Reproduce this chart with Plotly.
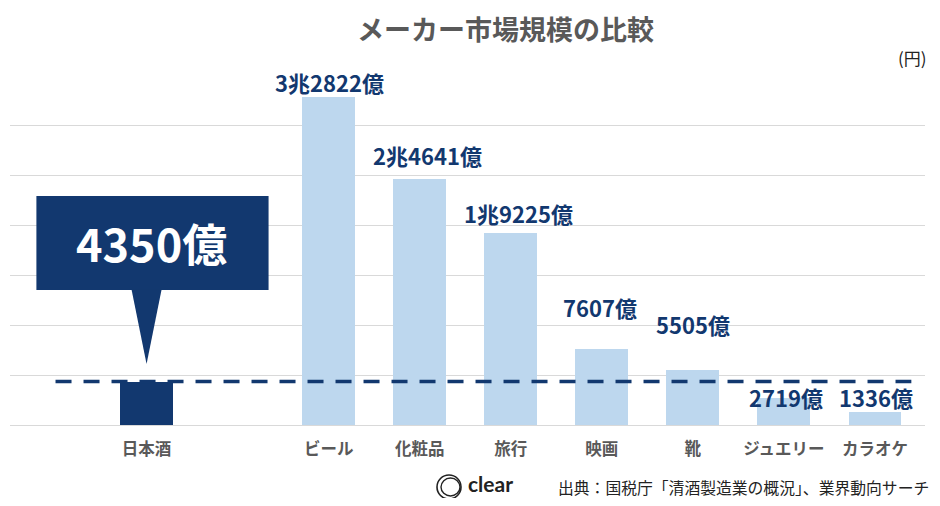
import plotly.graph_objects as go

# Data (億円)
SAKE_LABEL = "日本酒"
SAKE_VALUE = 4350
CATEGORIES = ["ビール", "化粧品", "旅行", "映画", "靴", "ジュエリー", "カラオケ"]
VALUES = [32822, 24641, 19225, 7607, 5505, 2719, 1336]

# label placement tweaks (pixels), kept apart from the data
LABEL_YSHIFT = [15, 24, 20, 42, 46, 1, 15]
LABEL_XSHIFT = [1, 8, 8, -2, 0, 2, 1]

NAVY = "#12386F"
LIGHT = "#BDD7EE"
GRAY = "#595959"
FONT = "Noto Sans CJK JP"

# page body has an 8px margin, so the figure is sized to fit the window
W, H = 924, 490
L, R, T, B = 2, 7, 66, 73
PW, PH = W - L - R, H - T - B


def px(x):
    # window pixel x -> paper x
    return (x - 8 - L) / PW


def py(y):
    # window pixel y -> paper y
    return (H - B - (y - 8)) / PH


def fmt_oku(v):
    if v >= 10000:
        return f"{v // 10000}兆{v % 10000}億"
    return f"{v}億"


sake_x = 0
other_x = [2 + i for i in range(len(CATEGORIES))]

fig = go.Figure()

fig.add_trace(go.Bar(
    x=[sake_x], y=[SAKE_VALUE], width=0.58,
    marker=dict(color=NAVY, line=dict(width=0)),
    hoverinfo="skip", showlegend=False,
))
fig.add_trace(go.Bar(
    x=other_x, y=VALUES, width=0.58,
    marker=dict(color=LIGHT, line=dict(width=0)),
    hoverinfo="skip", showlegend=False,
))

# value labels
for x, v, dy, dx in zip(other_x, VALUES, LABEL_YSHIFT, LABEL_XSHIFT):
    fig.add_annotation(
        x=x, y=v, text=f"<b>{fmt_oku(v)}</b>", showarrow=False,
        yanchor="middle", yshift=dy, xshift=dx,
        font=dict(family=FONT, size=22, color=NAVY),
    )

# dashed reference line at sake level
fig.add_shape(
    type="line", xref="x", yref="y", x0=-1.0, x1=8.4, y0=SAKE_VALUE, y1=SAKE_VALUE,
    line=dict(color=NAVY, width=3.5, dash="16px,12px"), layer="above",
)

# callout box
fig.add_shape(
    type="rect", xref="x", yref="y", x0=sake_x - 1.21, x1=sake_x + 1.34,
    y0=13500, y1=22900, fillcolor=NAVY, line=dict(width=0), layer="above",
)
fig.add_shape(
    type="path", xref="x", yref="y",
    path=f"M {sake_x - 0.165},13550 L {sake_x + 0.165},13550 L {sake_x},{SAKE_VALUE + 1750} Z",
    fillcolor=NAVY, line=dict(width=0), layer="above",
)
fig.add_annotation(
    x=sake_x + 0.05, y=18250, text=f"<b>{SAKE_VALUE}億</b>", showarrow=False,
    font=dict(family=FONT, size=45, color="white"),
)

# title, unit, footer
fig.add_annotation(
    xref="paper", yref="paper", x=px(505), y=py(8), text="<b>メーカー市場規模の比較</b>",
    showarrow=False, yanchor="top", borderpad=0,
    font=dict(family=FONT, size=27, color=GRAY),
)
fig.add_annotation(
    xref="paper", yref="paper", x=px(929), y=py(57), text="(円)", showarrow=False,
    xanchor="right", yanchor="middle",
    font=dict(family=FONT, size=17, color="#222222"),
)
fig.add_annotation(
    xref="paper", yref="paper", x=px(931), y=py(487),
    text="出典：国税庁「清酒製造業の概況」、業界動向サーチ", showarrow=False,
    xanchor="right", yanchor="middle",
    font=dict(family=FONT, size=15.8, color="#222222"),
)
fig.add_annotation(
    xref="paper", yref="paper", x=px(467), y=py(497), text="<b>clear</b>", showarrow=False,
    xanchor="left", yanchor="bottom", borderpad=0,
    font=dict(family="Lato", size=21, color="#222222"),
)
fig.add_shape(
    type="circle", xref="paper", yref="paper",
    x0=px(437), x1=px(461), y0=py(499), y1=py(475),
    line=dict(color="#222222", width=1.6),
)
fig.add_shape(
    type="circle", xref="paper", yref="paper",
    x0=px(441), x1=px(460), y0=py(496), y1=py(478),
    line=dict(color="#222222", width=1.4),
)

fig.update_layout(
    width=W, height=H,
    margin=dict(l=L, r=R, t=T, b=B),
    paper_bgcolor="white", plot_bgcolor="white",
    bargap=0,
    xaxis=dict(
        range=[-1.5, 8.55],
        tickmode="array",
        tickvals=[sake_x] + other_x,
        ticktext=[f"<b>{c}</b>" for c in [SAKE_LABEL] + CATEGORIES],
        tickfont=dict(family=FONT, size=16.5, color=GRAY),
        ticklabelstandoff=12,
        showgrid=False, zeroline=False, showline=False, ticks="",
    ),
    yaxis=dict(
        range=[0, 35100], dtick=5000, showticklabels=False,
        showgrid=True, gridcolor="#D9D9D9", gridwidth=1,
        zeroline=True, zerolinecolor="#D9D9D9", zerolinewidth=1,
        showline=False, ticks="",
    ),
)

fig.write_html("out.html")
